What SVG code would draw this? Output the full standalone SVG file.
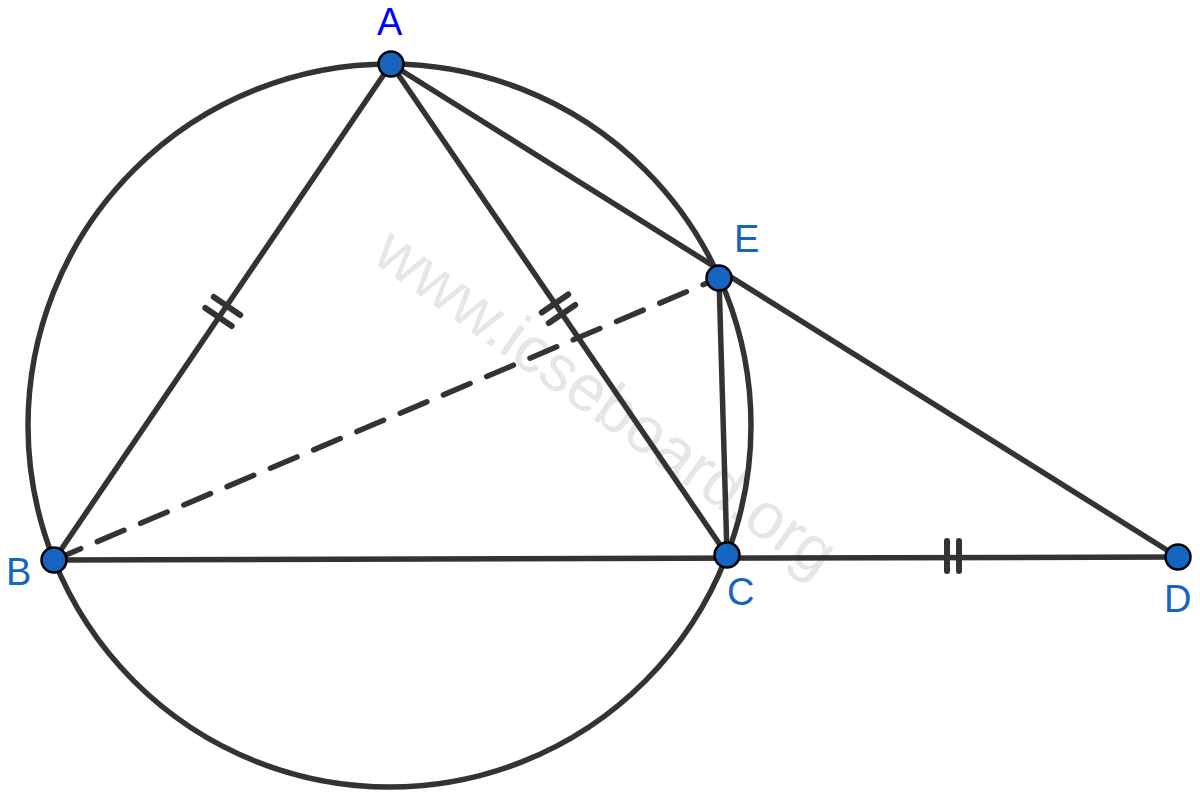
<svg xmlns="http://www.w3.org/2000/svg" width="1200" height="806" viewBox="0 0 1200 806">
<style>
.ln{stroke:#333333;stroke-width:5.5;fill:none;stroke-linecap:round}
.tk{stroke:#333333;stroke-width:6;fill:none;stroke-linecap:round}
.pt{fill:#1565C0;stroke:#000;stroke-width:2.5}
.lb{font-family:"Liberation Sans",Arial,sans-serif;font-size:38px;fill:#1565C0}
.wm{font-family:"Liberation Sans",Arial,sans-serif;font-size:65px;fill:#e6e6e6}
</style>
<rect width="1200" height="806" fill="#fff"/>
<text class="wm" transform="translate(370,260) rotate(35.5)">www.icseboard.org</text>
<g id="connectors">
<circle class="ln" cx="389.5" cy="425.5" r="361.5"/>
<line class="ln" x1="391" y1="64" x2="54" y2="560"/>
<line class="ln" x1="391" y1="64" x2="727" y2="555"/>
<line class="ln" x1="391" y1="64" x2="1178" y2="557"/>
<line class="ln" x1="54" y1="560" x2="1178" y2="557"/>
<line class="ln" x1="719" y1="278" x2="727" y2="555"/>
<line class="ln" x1="54" y1="560" x2="719" y2="278" stroke-dasharray="29 18" stroke-linecap="butt" stroke-width="6"/>
<g id="ticks">
<line class="tk" x1="213.8" y1="297" x2="240.2" y2="315"/>
<line class="tk" x1="205.3" y1="308" x2="231.7" y2="326"/>
<line class="tk" x1="541.8" y1="312.5" x2="568.2" y2="294.5"/>
<line class="tk" x1="548.8" y1="323" x2="575.2" y2="305"/>
<line class="tk" x1="947" y1="541" x2="947" y2="571"/>
<line class="tk" x1="959" y1="541" x2="959" y2="571"/>
</g>
</g>
<g id="A"><circle class="pt" cx="391" cy="64" r="12.5"/><text class="lb" x="377" y="35" style="fill:#0000ff">A</text></g>
<g id="B"><circle class="pt" cx="54" cy="560" r="12.5"/><text class="lb" x="6" y="585">B</text></g>
<g id="C"><circle class="pt" cx="727" cy="555" r="12.5"/><text class="lb" x="727" y="605">C</text></g>
<g id="D"><circle class="pt" cx="1178" cy="557" r="12.5"/><text class="lb" x="1164" y="612">D</text></g>
<g id="E"><circle class="pt" cx="719" cy="278" r="12.5"/><text class="lb" x="734" y="252">E</text></g>
</svg>
